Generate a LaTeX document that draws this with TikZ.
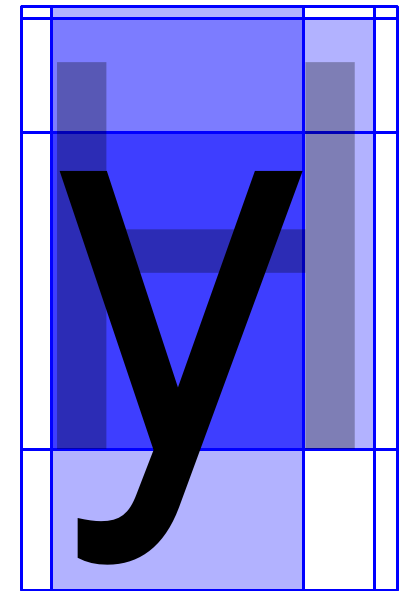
\documentclass[tikz,border=0pt]{standalone}
\usepackage{fontspec}
\setmainfont{TeX Gyre Heros}
\begin{document}
\begin{tikzpicture}[x=0.75pt, y=-0.75pt,
  metric/.style={draw=blue, line width=2.25pt, line join=round},
  zone/.style={fill=blue, fill opacity=0.3},
  glyph/.style={anchor=base west, inner sep=0pt, outer sep=0pt,
                font=\fontsize{398}{398}\selectfont}]
  \useasboundingbox (0,0) rectangle (410,591);
  % Glyph boxes
  \fill[zone] (51,7) rectangle (303,591);
  \fill[zone] (51,19) rectangle (374,449);
  \fill[zone, fill opacity=0.5] (51,132.5) rectangle (303,449);
  % Metric lines
  \draw[metric] (21,7) rectangle (397.5,590);
  \foreach \gx in {51,303,374} \draw[metric] (\gx,7) -- (\gx,590);
  \foreach \gy in {19,132.5,449} \draw[metric] (21,\gy) -- (397.5,\gy);
  % Glyphs
  \node[glyph, text opacity=0.29] (capH) at (13.5,449) {H};
  \node[glyph] (smally) at (49,449) {y};
\end{tikzpicture}
\end{document}
